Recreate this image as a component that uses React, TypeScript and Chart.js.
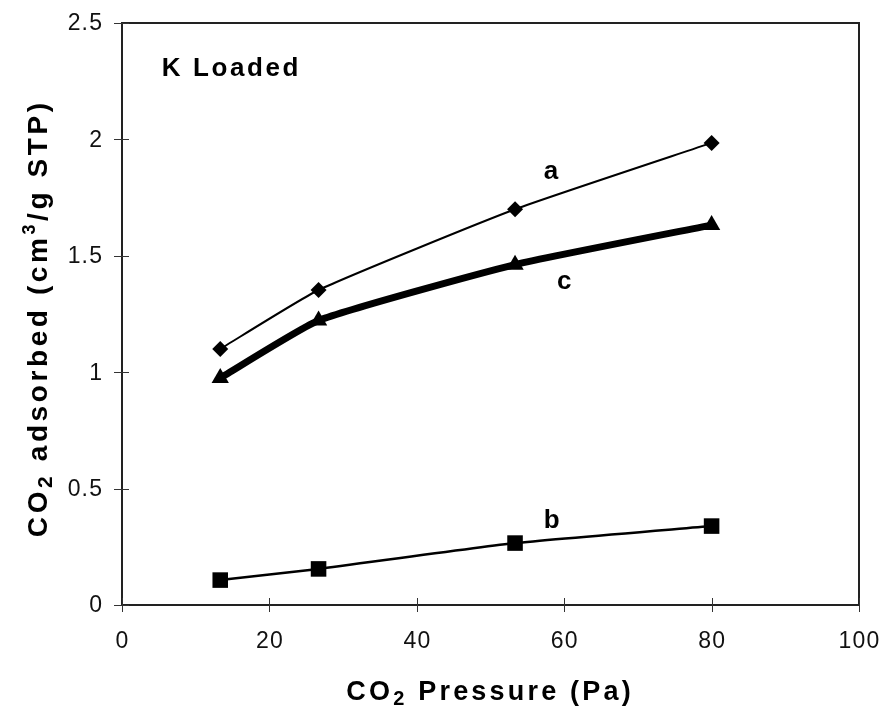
import React, { useEffect, useRef } from "react";
import { Chart, registerables } from "chart.js";

Chart.register(...registerables);

// Data
const pressures = [13.33, 26.67, 53.33, 80];
const seriesA = [1.1, 1.353, 1.7, 1.985];
const seriesC = [0.975, 1.222, 1.462, 1.632];
const seriesB = [0.107, 0.155, 0.266, 0.339];
const xTickValues = [0, 20, 40, 60, 80, 100];
const yTickValues = [0, 0.5, 1, 1.5, 2, 2.5];
const yTickLabels = ["0", "0.5", "1", "1.5", "2", "2.5"];
const seriesLabels = [
  { text: "a", x: 58.2, y: 1.86 },
  { text: "c", x: 60.0, y: 1.39 },
  { text: "b", x: 58.3, y: 0.361 },
];
const panelLabel = { text: "K Loaded", x: 5.4, y: 2.315 };

type Part = { text: string; scale?: number; dy?: number };

const FAMILY = "'Liberation Sans', Arial, sans-serif";

function partsWidth(ctx: CanvasRenderingContext2D, parts: Part[], size: number, sp: number) {
  let w = 0;
  let n = 0;
  for (const p of parts) {
    ctx.font = `bold ${Math.round(size * (p.scale || 1))}px ${FAMILY}`;
    for (const ch of p.text) {
      w += ctx.measureText(ch).width + sp;
      n++;
    }
  }
  return n ? w - sp : 0;
}

function drawParts(
  ctx: CanvasRenderingContext2D,
  parts: Part[],
  x: number,
  y: number,
  size: number,
  sp: number,
  align: "left" | "center"
) {
  const total = partsWidth(ctx, parts, size, sp);
  let cx = align === "center" ? x - total / 2 : x;
  ctx.textAlign = "left";
  ctx.textBaseline = "alphabetic";
  for (const p of parts) {
    ctx.font = `bold ${Math.round(size * (p.scale || 1))}px ${FAMILY}`;
    for (const ch of p.text) {
      ctx.fillText(ch, cx, y + (p.dy || 0));
      cx += ctx.measureText(ch).width + sp;
    }
  }
}

function drawSpacedPlain(ctx: CanvasRenderingContext2D, text: string, x: number, y: number, sp: number, align: "right" | "center") {
  let w = 0;
  for (const ch of text) w += ctx.measureText(ch).width + sp;
  w -= sp;
  let cx = align === "center" ? x - w / 2 : x - w;
  ctx.textAlign = "left";
  for (const ch of text) {
    ctx.fillText(ch, cx, y);
    cx += ctx.measureText(ch).width + sp;
  }
}

const decorPlugin = {
  id: "decor",
  afterDraw(chart: any) {
    const ctx: CanvasRenderingContext2D = chart.ctx;
    const xs = chart.scales.x;
    const ys = chart.scales.y;
    const { left, right, top, bottom } = chart.chartArea;
    ctx.save();
    // frame
    ctx.strokeStyle = "#222";
    ctx.lineWidth = 2;
    ctx.strokeRect(left, top, right - left, bottom - top);
    // ticks
    ctx.lineWidth = 1;
    ctx.strokeStyle = "#333";
    for (const v of yTickValues) {
      const py = Math.round(ys.getPixelForValue(v)) + 0.5;
      ctx.beginPath();
      ctx.moveTo(left - 8, py);
      ctx.lineTo(left + 7, py);
      ctx.stroke();
    }
    for (const v of xTickValues) {
      const px = Math.round(xs.getPixelForValue(v)) + 0.5;
      ctx.beginPath();
      ctx.moveTo(px, bottom - 7);
      ctx.lineTo(px, bottom + 7);
      ctx.stroke();
    }
    // tick labels
    ctx.fillStyle = "#111";
    ctx.font = `23px ${FAMILY}`;
    ctx.textBaseline = "middle";
    yTickValues.forEach((v, i) => {
      drawSpacedPlain(ctx, yTickLabels[i], left - 20, ys.getPixelForValue(v) + 1, 1.2, "right");
    });
    xTickValues.forEach((v) => {
      drawSpacedPlain(ctx, String(v), xs.getPixelForValue(v), bottom + 37, 1.2, "center");
    });

    ctx.fillStyle = "#000";
    // x title
    drawParts(
      ctx,
      [{ text: "CO" }, { text: "2", scale: 0.75, dy: 5 }, { text: " Pressure (Pa)" }],
      (left + right) / 2 - 2,
      700,
      27,
      3.2,
      "center"
    );
    // y title
    ctx.save();
    ctx.translate(47, (top + bottom) / 2 + 6);
    ctx.rotate(-Math.PI / 2);
    drawParts(
      ctx,
      [
        { text: "CO" },
        { text: "2", scale: 0.75, dy: 5 },
        { text: " adsorbed (cm" },
        { text: "3", scale: 0.65, dy: -12 },
        { text: "/g STP)" },
      ],
      0,
      0,
      28,
      3.6,
      "center"
    );
    ctx.restore();

    // series labels
    ctx.textBaseline = "middle";
    for (const l of seriesLabels) {
      ctx.font = `bold 26px ${FAMILY}`;
      ctx.textAlign = "center";
      ctx.fillText(l.text, xs.getPixelForValue(l.x), ys.getPixelForValue(l.y));
    }
    drawParts(
      ctx,
      [{ text: panelLabel.text }],
      xs.getPixelForValue(panelLabel.x),
      ys.getPixelForValue(panelLabel.y) + 10,
      26,
      2.6,
      "left"
    );
    ctx.restore();
  },
};

export default function App() {
  const ref = useRef<HTMLCanvasElement>(null);
  useEffect(() => {
    if (!ref.current) return;
    const mk = (vals: number[]) => pressures.map((x, i) => ({ x, y: vals[i] }));
    const chart = new Chart(ref.current, {
      type: "line",
      data: {
        datasets: [
          {
            label: "a",
            data: mk(seriesA),
            borderColor: "#000",
            backgroundColor: "#000",
            borderWidth: 2,
            pointStyle: "rectRot",
            pointRadius: 8,
            pointBorderWidth: 0,
            tension: 0.15,
          },
          {
            label: "c",
            data: mk(seriesC),
            borderColor: "#000",
            backgroundColor: "#000",
            borderWidth: 7,
            pointStyle: "triangle",
            pointRadius: 10,
            pointBorderWidth: 0,
            tension: 0.15,
          },
          {
            label: "b",
            data: mk(seriesB),
            borderColor: "#000",
            backgroundColor: "#000",
            borderWidth: 2.5,
            pointStyle: "rect",
            pointRadius: 11,
            pointBorderWidth: 0,
            tension: 0.15,
          },
        ],
      },
      options: {
        animation: false,
        responsive: false,
        maintainAspectRatio: false,
        layout: { padding: { left: 122, right: 22, top: 23, bottom: 109 } },
        plugins: { legend: { display: false }, tooltip: { enabled: false } },
        scales: {
          x: { type: "linear", min: 0, max: 100, display: false },
          y: { type: "linear", min: 0, max: 2.5, display: false },
        },
      },
      plugins: [decorPlugin],
    });
    return () => chart.destroy();
  }, []);
  return (
    <div style={{ position: "absolute", left: 0, top: 0, width: 881, height: 714, background: "#fff" }}>
      <canvas ref={ref} width={881} height={714} style={{ width: 881, height: 714, display: "block" }} />
    </div>
  );
}
